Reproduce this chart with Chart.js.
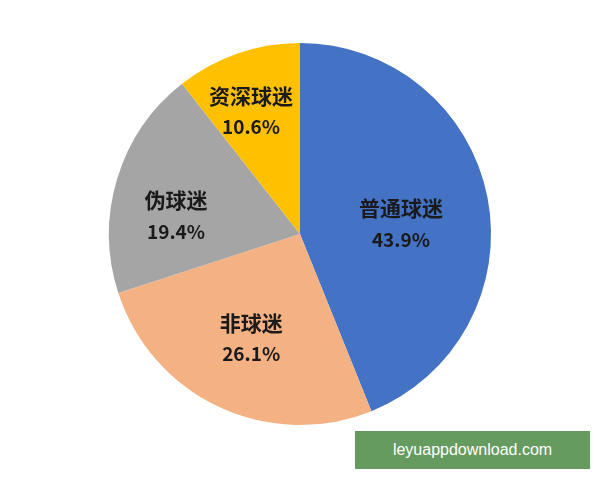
<!DOCTYPE html>
<html>
<head>
<meta charset="utf-8">
<script src="https://cdn.jsdelivr.net/npm/chart.js@4"></script>
<style>
  html, body { margin: 0; padding: 0; background: #fff; }
  #wrap { position: relative; width: 600px; height: 480px; }
  #mark {
    position: absolute; left: 355px; top: 431px; width: 235px; height: 38px;
    background: #659b5e; color: #fff; font: 16px "Liberation Sans", Arial, sans-serif;
    display: flex; align-items: center; justify-content: center;
  }
</style>
</head>
<body>
<div id="wrap">
  <canvas id="chart" width="600" height="480"></canvas>
  <div id="mark">leyuappdownload.com</div>
</div>
<script>
const labels = ['普通球迷', '非球迷', '伪球迷', '资深球迷'];
const values = [43.9, 26.1, 19.4, 10.6];
const colors = ['#4472c4', '#f4b183', '#a5a5a5', '#ffc000'];
// label placement: fraction of radius, and turn (rad) away from the slice middle
const labelRadius = [0.531, 0.604, 0.656, 0.693];
const labelTurn = [0.093, 0, -0.151, -0.046];

const sliceLabels = {
    id: 'sliceLabels',
    afterDatasetsDraw(chart) {
        const ctx = chart.ctx;
        const arcs = chart.getDatasetMeta(0).data;
        ctx.save();
        ctx.fillStyle = '#1a1a1a';
        ctx.textAlign = 'center';
        ctx.textBaseline = 'middle';
        arcs.forEach((arc, i) => {
            const mid = (arc.startAngle + arc.endAngle) / 2 + labelTurn[i];
            const r = arc.outerRadius * labelRadius[i];
            const x = arc.x + Math.cos(mid) * r;
            const y = arc.y + Math.sin(mid) * r;
            ctx.font = 'bold 21px "Noto Sans CJK SC", sans-serif';
            ctx.fillText(labels[i], x, y - 15.5);
            ctx.font = 'bold 19px "Noto Sans CJK SC", sans-serif';
            ctx.fillText(values[i].toFixed(1) + '%', x, y + 15.5);
        });
        ctx.restore();
    }
};

var id = document.getElementById("chart").getContext("2d");

var chart = new Chart(id, {
    type: 'pie',
    data: {
        labels: labels,
        datasets: [{
            data: values,
            backgroundColor: colors,
            borderWidth: 0
        }]
    },
    options: {
        responsive: false,
        animation: false,
        layout: { padding: { top: 43, bottom: 55, left: 0, right: 0 } },
        plugins: {
            legend: { display: false },
            tooltip: { enabled: false }
        }
    },
    plugins: [sliceLabels]
});
</script>
</body>
</html>
